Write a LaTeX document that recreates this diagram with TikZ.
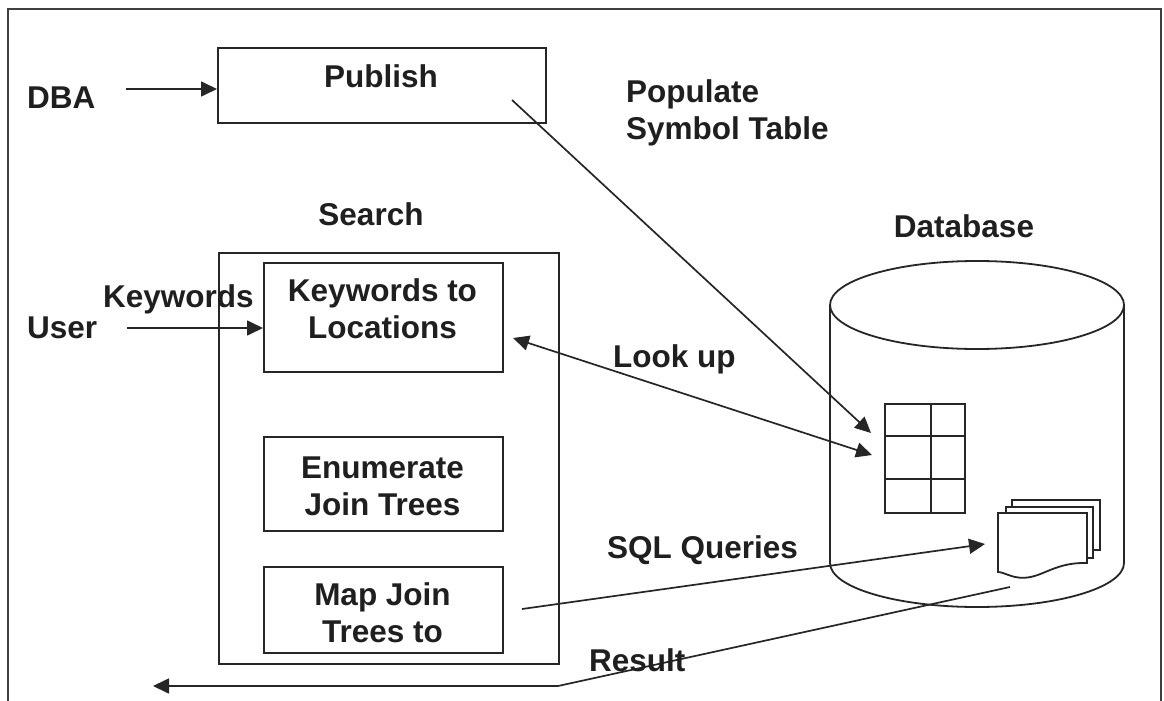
\documentclass[tikz,border=0pt]{standalone}
\usepackage{fontspec}
\setmainfont{Liberation Sans}
\usetikzlibrary{arrows.meta}
\begin{document}
\begin{tikzpicture}[x=1pt,y=-1pt,
  every node/.style={font=\bfseries\fontsize{31.5}{37}\selectfont, text=black!88, inner sep=0pt},
  stroke/.style={line width=1.8pt, draw=black!85},
  box/.style={stroke, anchor=north west},
  filltip/.tip={Triangle[length=16pt,width=15pt]},
  conn/.style={line width=1.7pt, draw=black!85, -{filltip}},
  biconn/.style={line width=1.7pt, draw=black!85, {filltip}-{filltip}}]

% canvas
\fill[white] (0,0) rectangle (1164,701);
\useasboundingbox (0,0) rectangle (1164,701);
\draw[line width=2.2pt, draw=black!75] (8,701) -- (8,9) -- (1161,9) -- (1161,701);

% publishing step
\node[box, minimum width=328pt, minimum height=75pt] (publish) at (217,47) {};
\node[anchor=base] (publishtxt) at (381,87) {Publish};
\node[anchor=base west] (dba) at (27,108) {DBA};
\node[anchor=west, align=left] (populate) at (626,113.3) {Populate\\Symbol Table};

% search component
\node[anchor=base] (searchtxt) at (371,225) {Search};
\node[box, minimum width=340pt, minimum height=411pt] (search) at (218,252) {};
\node[box, minimum width=239pt, minimum height=109pt] (ktl) at (263,262) {};
\node[align=center] (ktltxt) at (382.5,309.1) {Keywords to\\Locations};
\node[box, minimum width=239pt, minimum height=94pt] (enum) at (263,436) {};
\node[align=center] (enumtxt) at (382.5,486.2) {Enumerate\\Join Trees};
\node[box, minimum width=239pt, minimum height=86pt] (mapjt) at (263,566) {};
\node[align=center] (maptxt) at (382.5,613.2) {Map Join\\Trees to};

\node[anchor=base west] (user) at (27,338) {User};
\node[anchor=base west] (keywords) at (103,307) {Keywords};

% database cylinder
\node[anchor=base] (dbtxt) at (964,237) {Database};
\draw[stroke] (830,305) -- (830,563) arc[start angle=180, end angle=360, x radius=147pt, y radius=44pt] -- (1124,305);
\draw[stroke] (977,305) ellipse [x radius=147pt, y radius=44pt];

% symbol table grid
\node[box, minimum width=80pt, minimum height=109pt] (symtab) at (884,403) {};
\draw[stroke] (931,403) -- (931,512);
\draw[stroke] (884,436) -- (964,436);
\draw[stroke] (884,479) -- (964,479);

% stack of query documents
\draw[stroke, fill=white] (1012,500) rectangle (1100,550);
\draw[stroke, fill=white] (1006,507) rectangle (1093,558);
\draw[stroke, fill=white] (998,513) -- (1087,513) -- (1087,563)
  .. controls (1050,562) and (1040,582) .. (1015,577)
  .. controls (1007,575) and (1002,572) .. (998,572) -- cycle;

% connectors
\coordinate (dbaout) at (126,89);
\draw[conn] (dbaout) -- (publish.west |- dbaout);

\coordinate (userout) at (127,328);
\draw[conn] (userout) -- (ktl.west |- userout);

\coordinate (pubsrc) at (512,100);
\coordinate (symin) at (871,433);
\draw[conn] (pubsrc) -- (symin);

\coordinate (lookL) at (513,338);
\coordinate (lookR) at (872,455);
\draw[biconn] (lookL) -- (lookR);
\node[anchor=base west] (lookup) at (613,367) {Look up};

\coordinate (sqlsrc) at (522,609);
\coordinate (sqltip) at (985,544);
\draw[conn] (sqlsrc) -- (sqltip);
\node[anchor=base west] (sql) at (607,558) {SQL Queries};

\coordinate (ressrc) at (1010,587);
\coordinate (resbend) at (558,686);
\coordinate (restip) at (153,686);
\draw[conn] (ressrc) -- (resbend) -- (restip);
\node[anchor=base west] (result) at (589,671) {Result};
\end{tikzpicture}
\end{document}
